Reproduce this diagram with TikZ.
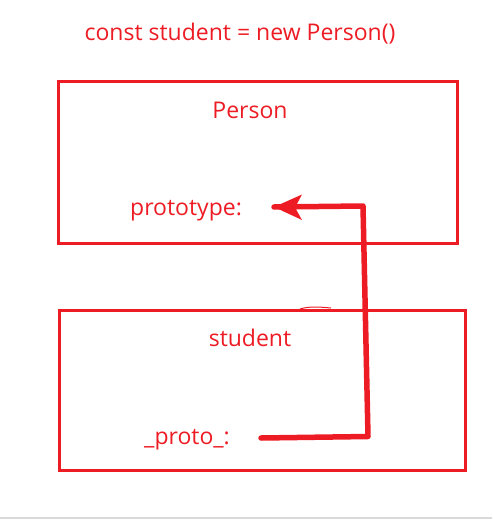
\documentclass[tikz,border=0pt]{standalone}
\usepackage{fontspec}
\setmainfont{Open Sans}
\usetikzlibrary{arrows.meta}
\definecolor{myred}{HTML}{ED1C24}
\definecolor{mygrey}{HTML}{D9D9D9}
\begin{document}
\begin{tikzpicture}[x=1pt,y=-1pt,
  lbl/.style={text=myred,font=\fontsize{23}{27}\selectfont,inner sep=0pt,anchor=base},
  frame/.style={draw=myred,line width=3pt,rectangle,minimum width=#1,inner sep=0pt},
  link/.style={draw=myred,line width=5.5pt,line cap=round,line join=round}]
\useasboundingbox (0,0) rectangle (492,532);
\draw[mygrey,line width=1.2pt] (0,518) -- (492,518);
\node[lbl] (title) at (240,41) {const student = new Person()};
\node[frame=399pt,minimum height=161pt] (personbox) at (257.5,162.5) {};
\node[frame=406pt,minimum height=160pt] (studentbox) at (262,390) {};
\node[lbl] (person) at (250,118) {Person};
\node[lbl,anchor=base west] (prototype) at (130,215) {prototype:};
\node[lbl] (student) at (250,346) {student};
\node[lbl,anchor=base west] (proto) at (144,444) {\_proto\_:};
\coordinate (start) at (261,438);
\coordinate (c1) at (368,436.5);
\coordinate (c2) at (363,206);
\coordinate (tip) at (274,207);
\draw[link] (start) -- (c1) -- (c2) -- (tip);
\fill[myred] (tip) -- (302,194.5) -- (295,207.5) -- (302,220) -- cycle;
\draw[myred,line width=1pt] (300,309) .. controls (310,306) and (320,307) .. (331,308);
\end{tikzpicture}
\end{document}
